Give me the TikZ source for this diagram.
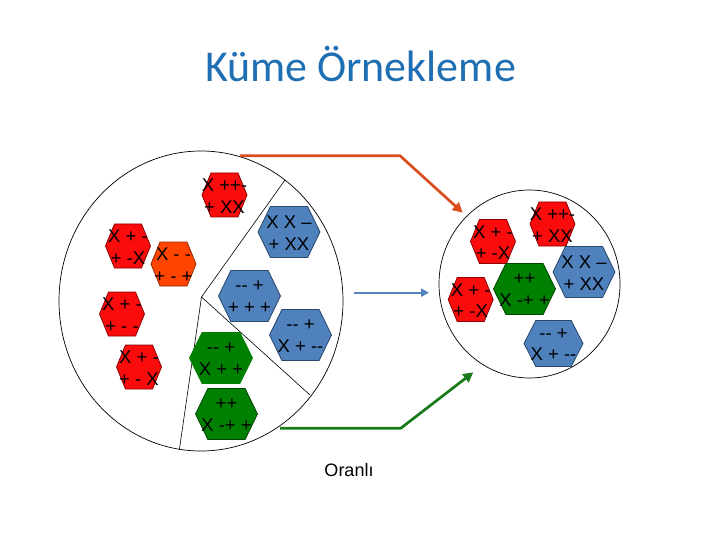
\documentclass[tikz,border=0pt]{standalone}
\usepackage{fontspec}
\setmainfont{Liberation Sans}
\newfontfamily\titlefont{Carlito}
\usetikzlibrary{arrows.meta}
\definecolor{hred}{RGB}{250,12,12}
\definecolor{hredline}{RGB}{140,0,0}
\definecolor{horange}{RGB}{255,69,0}
\definecolor{horangeline}{RGB}{150,40,0}
\definecolor{hblue}{RGB}{79,129,189}
\definecolor{hblueline}{RGB}{40,70,110}
\definecolor{hgreen}{RGB}{0,128,0}
\definecolor{hgreenline}{RGB}{0,70,0}
\definecolor{titleblue}{RGB}{30,110,180}
\definecolor{arrorange}{RGB}{218,77,30}
\definecolor{arrblue}{RGB}{84,130,190}
\definecolor{arrgreen}{RGB}{24,122,24}
\newcommand\hh{-\kern0pt-}
\tikzset{
  hextext/.style={align=center, font=\fontsize{18.5}{21.5}\selectfont, inner sep=0pt, text=black},
  redhex/.style={fill=hred, draw=hredline, line width=0.8pt},
  orangehex/.style={fill=horange, draw=horangeline, line width=0.8pt},
  bluehex/.style={fill=hblue, draw=hblueline, line width=0.8pt},
  greenhex/.style={fill=hgreen, draw=hgreenline, line width=0.8pt},
  greenhexflat/.style={fill=hgreen, draw=hgreen, line width=0.8pt},
  circ/.style={draw=black, line width=0.7pt},
  divline/.style={draw=black, line width=0.6pt},
  orangearrow/.style={draw=arrorange, line width=2.7pt, -{Triangle[length=10pt,width=10pt]}},
  bluearrow/.style={draw=arrblue, line width=2pt, -{Triangle[length=8pt,width=8pt]}},
  greenarrow/.style={draw=arrgreen, line width=2.7pt, -{Triangle[length=10pt,width=10pt]}},
}
% #1 name, #2 cx, #3 cy, #4 w, #5 h, #6 style, #7 line1, #8 line2
\newcommand\hexa[8]{%
  \begin{scope}[shift={(#2,#3)}]
    \path[#6] (-#4/2,0) -- (-0.3*#4,-#5/2) -- (0.3*#4,-#5/2) -- (#4/2,0)
      -- (0.3*#4,#5/2) -- (-0.3*#4,#5/2) -- cycle;
  \end{scope}
  \node[hextext] (#1) at (#2,#3+1) {#7\\#8};
}
\begin{document}
\begin{tikzpicture}[x=1pt,y=-1pt]
\useasboundingbox (0,0) rectangle (720,540);
\fill[white] (0,0) rectangle (720,540);

% title
\node[font=\titlefont\fontsize{44}{44}\selectfont, text=titleblue, anchor=base, inner sep=0pt] (title) at (360.5,81.5) {Küme Örnekleme};

% left population circle
\draw[circ] (201,301) ellipse [x radius=142, y radius=150];
\coordinate (pc) at (201.5,297);
\coordinate (d1) at (285,180);
\coordinate (d2) at (310,395);
\coordinate (d3) at (179.3,450);
\draw[divline] (pc) -- (d1);
\draw[divline] (pc) -- (d2);
\draw[divline] (pc) -- (d3);

\hexa{l1}{224.5}{195}{45}{44}{redhex}{X ++-}{+ XX}
\hexa{l2}{128}{246}{45}{44}{redhex}{X + -}{+ -X}
\hexa{l3}{173.5}{264}{45}{44}{orangehex}{X - -}{+ - +}
\hexa{l4}{122}{314}{45}{44}{redhex}{X + -}{+ - -}
\hexa{l5}{139}{367}{45}{44}{redhex}{X + -}{+ - X}
\hexa{l6}{289}{232}{62}{51}{bluehex}{X X –}{+ XX}
\hexa{l7}{249.5}{296}{62}{51}{bluehex}{\hh\ +}{+ + +}
\hexa{l8}{300.5}{335}{62}{51}{bluehex}{\hh\ +}{X + \hh}
\hexa{l9}{221}{358}{63}{51}{greenhexflat}{\hh\ +}{X + +}
\hexa{l10}{226.5}{414}{62}{51}{greenhex}{++}{X -+ +}

% right sample circle
\draw[circ] (529.5,284) ellipse [x radius=90.5, y radius=94];
\hexa{r1}{493}{241.5}{45}{44}{redhex}{X + -}{+ -X}
\hexa{r2}{552.5}{224}{45}{44}{redhex}{X ++-}{+ XX}
\hexa{r3}{584}{272}{62}{51}{bluehex}{X X –}{+ XX}
\hexa{r4}{524.5}{289}{62}{51}{greenhex}{++}{X -+ +}
\hexa{r5}{470.7}{299.5}{45}{44}{redhex}{X + -}{+ -X}
\hexa{r6}{553.5}{343.5}{59}{46}{bluehex}{\hh\ +}{X + \hh}

% arrows
\coordinate (oa1) at (240,155.7);
\coordinate (oa2) at (400,155.7);
\coordinate (oa3) at (462.7,212.7);
\draw[orangearrow] (oa1) -- (oa2) -- (oa3);
\coordinate (ba1) at (354,292.7);
\coordinate (ba2) at (429,292.7);
\draw[bluearrow] (ba1) -- (ba2);
\coordinate (ga1) at (280,428.3);
\coordinate (ga2) at (400.7,428.3);
\coordinate (ga3) at (473.3,372.3);
\draw[greenarrow] (ga1) -- (ga2) -- (ga3);

\node[font=\fontsize{18}{18}\selectfont, anchor=base, inner sep=0pt] (oranli) at (349,476) {Oranlı};
\end{tikzpicture}
\end{document}
